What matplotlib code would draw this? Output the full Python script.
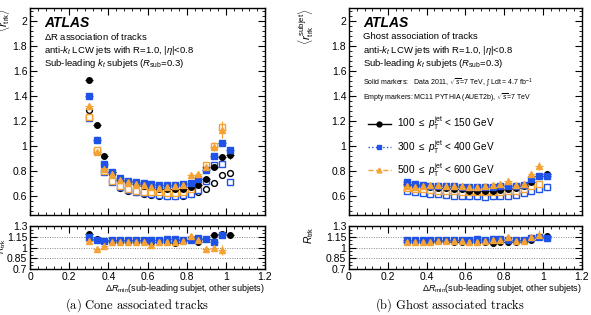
import numpy as np
import matplotlib
matplotlib.use("Agg")
import matplotlib.pyplot as plt
from matplotlib.lines import Line2D
from matplotlib.ticker import MultipleLocator

plt.rcParams['font.family'] = ['Liberation Sans', 'DejaVu Sans']
plt.rcParams['mathtext.fontset'] = 'custom'
plt.rcParams['mathtext.rm'] = 'Liberation Sans'
plt.rcParams['mathtext.it'] = 'Liberation Sans:italic'
plt.rcParams['mathtext.bf'] = 'Liberation Sans:bold'

# bin centres of Delta R_min
xc = [0.30, 0.34, 0.38, 0.42, 0.46, 0.50, 0.54, 0.58, 0.62, 0.66,
      0.70, 0.74, 0.78, 0.82, 0.86, 0.90, 0.94, 0.98, 1.02]

# ---- (a) cone association ----
d100_cone = [1.53, 1.17, 0.92, 0.79, 0.73, 0.72, 0.70, 0.685, 0.67, 0.66, 0.66, 0.655, 0.66, 0.67, 0.69, 0.74, 0.835, 0.915, 0.93]
d300_cone = [1.40, 1.05, 0.86, 0.79, 0.745, 0.72, 0.71, 0.705, 0.70, 0.69, 0.69, 0.69, 0.70, 0.705, 0.74, 0.81, 0.92, 1.02, 0.97]
d500_cone = [1.32, 0.95, 0.82, 0.78, 0.73, 0.71, 0.70, 0.69, 0.67, 0.665, 0.675, 0.68, 0.69, 0.77, 0.78, 0.835, 0.995, 1.13]
e100_cone = [0.012, 0.008, 0.006, 0.005, 0.005, 0.005, 0.005, 0.005, 0.005, 0.005, 0.005, 0.006, 0.006, 0.007, 0.008, 0.01, 0.015, 0.02, 0.035]
e300_cone = [0.01, 0.008, 0.006, 0.005, 0.005, 0.005, 0.005, 0.005, 0.005, 0.005, 0.005, 0.006, 0.006, 0.007, 0.008, 0.01, 0.012, 0.015, 0.02]
e500_cone = [0.025, 0.015, 0.012, 0.01, 0.01, 0.01, 0.01, 0.01, 0.01, 0.01, 0.01, 0.01, 0.012, 0.015, 0.02, 0.025, 0.035, 0.07]
m100_cone = [1.29, 1.045, 0.845, 0.72, 0.665, 0.645, 0.63, 0.62, 0.61, 0.605, 0.60, 0.60, 0.605, 0.615, 0.635, 0.66, 0.705, 0.77, 0.785]
m300_cone = [1.22, 0.96, 0.79, 0.715, 0.67, 0.65, 0.635, 0.625, 0.615, 0.61, 0.605, 0.605, 0.61, 0.62, 0.65, 0.72, 0.85, 0.86, 0.715]
m500_cone = [1.23, 0.965, 0.80, 0.72, 0.68, 0.66, 0.645, 0.635, 0.63, 0.63, 0.625, 0.625, 0.63, 0.66, 0.70, 0.85, 1.0, 1.15]
r100_cone = [1.19, 1.12, 1.09, 1.10, 1.10, 1.10, 1.10, 1.10, 1.07, 1.08, 1.08, 1.06, 1.10, 1.10, 1.07, 1.12, 1.18, 1.19, 1.17]
r300_cone = [1.15, 1.10, 1.09, 1.11, 1.11, 1.11, 1.11, 1.11, 1.11, 1.10, 1.12, 1.12, 1.11, 1.10, 1.13, 1.12, 1.08, 1.18]
r500_cone = [1.09, 0.98, 1.02, 1.08, 1.08, 1.08, 1.08, 1.08, 1.04, 1.08, 1.07, 1.08, 1.09, 1.16, 1.10, 0.98, 0.99, 0.97]
re100_cone = [0.015, 0.01, 0.008, 0.008, 0.008, 0.008, 0.008, 0.008, 0.008, 0.008, 0.008, 0.01, 0.01, 0.01, 0.012, 0.015, 0.02, 0.025, 0.04]
re300_cone = [0.012, 0.01, 0.008, 0.008, 0.008, 0.008, 0.008, 0.008, 0.008, 0.008, 0.008, 0.01, 0.01, 0.01, 0.012, 0.015, 0.015, 0.02]
re500_cone = [0.02, 0.015, 0.015, 0.012, 0.012, 0.012, 0.012, 0.012, 0.012, 0.012, 0.012, 0.015, 0.015, 0.02, 0.025, 0.03, 0.035, 0.07]

# ---- (b) ghost association ----
d100_ghost = [0.70, 0.69, 0.68, 0.67, 0.665, 0.665, 0.66, 0.655, 0.645, 0.645, 0.645, 0.645, 0.65, 0.66, 0.665, 0.68, 0.71, 0.76, 0.78]
d300_ghost = [0.71, 0.70, 0.69, 0.685, 0.68, 0.68, 0.68, 0.675, 0.675, 0.675, 0.675, 0.675, 0.68, 0.68, 0.685, 0.69, 0.74, 0.76, 0.76]
d500_ghost = [0.68, 0.675, 0.685, 0.69, 0.69, 0.685, 0.68, 0.68, 0.675, 0.675, 0.68, 0.69, 0.70, 0.72, 0.69, 0.70, 0.775, 0.84]
e100_ghost = [0.006, 0.005, 0.005, 0.005, 0.005, 0.005, 0.005, 0.005, 0.005, 0.005, 0.005, 0.005, 0.006, 0.006, 0.007, 0.008, 0.01, 0.012, 0.018]
e300_ghost = [0.006, 0.005, 0.005, 0.005, 0.005, 0.005, 0.005, 0.005, 0.005, 0.005, 0.005, 0.005, 0.006, 0.006, 0.007, 0.008, 0.01, 0.012, 0.015]
e500_ghost = [0.01, 0.01, 0.01, 0.01, 0.01, 0.01, 0.01, 0.01, 0.01, 0.01, 0.01, 0.01, 0.012, 0.015, 0.015, 0.018, 0.02, 0.035]
m100_ghost = [0.65, 0.645, 0.64, 0.63, 0.625, 0.62, 0.615, 0.61, 0.605, 0.605, 0.605, 0.605, 0.61, 0.615, 0.62, 0.63, 0.645, 0.66, 0.67]
m300_ghost = [0.64, 0.635, 0.625, 0.62, 0.615, 0.61, 0.605, 0.60, 0.60, 0.60, 0.595, 0.60, 0.60, 0.605, 0.61, 0.625, 0.64, 0.66, 0.675]
m500_ghost = [0.665, 0.66, 0.655, 0.65, 0.645, 0.64, 0.64, 0.635, 0.635, 0.635, 0.63, 0.635, 0.635, 0.64, 0.645, 0.66, 0.68, 0.70]
r100_ghost = [1.08, 1.08, 1.08, 1.08, 1.09, 1.09, 1.08, 1.08, 1.07, 1.08, 1.08, 1.06, 1.08, 1.08, 1.08, 1.10, 1.11, 1.14, 1.16]
r300_ghost = [1.10, 1.10, 1.10, 1.10, 1.10, 1.10, 1.11, 1.11, 1.11, 1.12, 1.11, 1.12, 1.12, 1.11, 1.11, 1.11, 1.13, 1.14, 1.13]
r500_ghost = [1.07, 1.07, 1.08, 1.08, 1.09, 1.09, 1.09, 1.09, 1.08, 1.08, 1.09, 1.10, 1.10, 1.14, 1.09, 1.09, 1.14, 1.18]
re100_ghost = [0.01, 0.008, 0.008, 0.008, 0.008, 0.008, 0.008, 0.008, 0.008, 0.008, 0.008, 0.008, 0.008, 0.01, 0.01, 0.012, 0.015, 0.02, 0.025]
re300_ghost = [0.01, 0.008, 0.008, 0.008, 0.008, 0.008, 0.008, 0.008, 0.008, 0.008, 0.008, 0.008, 0.008, 0.01, 0.01, 0.012, 0.015, 0.018, 0.02]
re500_ghost = [0.015, 0.012, 0.012, 0.012, 0.012, 0.012, 0.012, 0.012, 0.012, 0.012, 0.012, 0.012, 0.015, 0.02, 0.02, 0.025, 0.03, 0.06]

pt_labels = [r'100 $\leq$ $p_{\mathrm{T}}^{\mathrm{jet}}$ < 150 GeV',
             r'300 $\leq$ $p_{\mathrm{T}}^{\mathrm{jet}}$ < 400 GeV',
             r'500 $\leq$ $p_{\mathrm{T}}^{\mathrm{jet}}$ < 600 GeV']

black = 'black'
blue = '#1f52e6'
orange = '#f4a234'
colors = [black, blue, orange]
data_mk = ['o', 's', '^']
mc_mk = ['o', 's', 's']


def style(ax, ymaj, ymin, ylim, labels_x):
    ax.set_xlim(0, 1.2)
    ax.set_ylim(*ylim)
    ax.xaxis.set_major_locator(MultipleLocator(0.2))
    ax.xaxis.set_minor_locator(MultipleLocator(0.04))
    ax.yaxis.set_major_locator(MultipleLocator(ymaj))
    ax.yaxis.set_minor_locator(MultipleLocator(ymin))
    ax.tick_params(which='both', direction='in', top=True, right=True, labelsize=7.5, pad=2)
    ax.tick_params(which='major', length=5)
    ax.tick_params(which='minor', length=2.5)
    if not labels_x:
        ax.tick_params(labelbottom=False)
    for s in ax.spines.values():
        s.set_linewidth(1.0)


def panel(left, width, data, errs, mcs, ratios, rerrs, ylabel, labx, rlabx, rlab_y, rfs):
    ax = fig.add_axes([left, 0.3175, width, 0.657])
    axr = fig.add_axes([left, 0.146, width, 0.1365])
    for i in range(3):
        n = len(data[i])
        ax.errorbar(xc[:n], mcs[i], fmt=mc_mk[i], ms=4.2, mfc='white', mec=colors[i],
                    mew=1.0, ls='none', zorder=2)
    for i in range(3):
        n = len(data[i])
        ax.errorbar(xc[:n], data[i], yerr=errs[i], xerr=0.02, fmt=data_mk[i], ms=4,
                    color=colors[i], elinewidth=0.8, capsize=0, ls='none', zorder=3)
        n = len(ratios[i])
        axr.errorbar(xc[:n], ratios[i], yerr=rerrs[i], xerr=0.02, fmt=data_mk[i], ms=4,
                     color=colors[i], elinewidth=0.8, capsize=0, ls='none', zorder=3)
    for yl in [0.85, 1.0, 1.15]:
        axr.axhline(yl, color='#888888', lw=0.7, ls=(0, (1, 1.5)), zorder=1)
    style(ax, 0.2, 0.04, (0.45, 2.1), False)
    style(axr, 0.15, 0.05, (0.7, 1.3), True)
    axr.set_yticks([0.7, 0.85, 1.0, 1.15, 1.3])
    axr.set_yticklabels(['0.7', '0.85', '1', '1.15', '1.3'])
    ax.set_yticklabels([f'{t:g}' for t in ax.get_yticks()])
    axr.set_xticklabels([f'{t:g}' for t in axr.get_xticks()])
    ax.set_ylabel(ylabel, loc='top', fontsize=8)
    ax.yaxis.set_label_coords(labx, 1.0)
    axr.set_ylabel(r'$R_{\mathrm{trk}}$', loc='top', fontsize=rfs)
    axr.yaxis.set_label_coords(rlabx, rlab_y)
    axr.set_xlabel(r'$\Delta R_{\mathrm{min}}$(sub-leading subjet, other subjets)',
                   loc='right', fontsize=6.5, labelpad=0.5)
    return ax, axr


fig = plt.figure(figsize=(5.91, 3.15), dpi=100)

axa, axar = panel(0.0508, 0.3976,
                  [d100_cone, d300_cone, d500_cone], [e100_cone, e300_cone, e500_cone],
                  [m100_cone, m300_cone, m500_cone],
                  [r100_cone, r300_cone, r500_cone], [re100_cone, re300_cone, re500_cone],
                  r'$\langle r_{\mathrm{trk}}\rangle$', -0.075, -0.095, 0.72, 6.5)
axb, axbr = panel(0.5905, 0.394,
                  [d100_ghost, d300_ghost, d500_ghost], [e100_ghost, e300_ghost, e500_ghost],
                  [m100_ghost, m300_ghost, m500_ghost],
                  [r100_ghost, r300_ghost, r500_ghost], [re100_ghost, re300_ghost, re500_ghost],
                  r'$\langle r_{\mathrm{trk}}^{\mathrm{subjet}}\rangle$', -0.14, -0.14, 1.0, 7.5)

common = [r'anti-$k_t$ LCW jets with R=1.0, |$\eta$|<0.8',
          r'Sub-leading $k_t$ subjets ($R_{\mathrm{sub}}$=0.3)']
for ax, first in [(axa, r'$\Delta$R association of tracks'), (axb, 'Ghost association of tracks')]:
    ax.text(0.06, 0.93, 'ATLAS', transform=ax.transAxes, fontsize=10,
            fontweight='bold', fontstyle='italic', va='center')
    for k, t in enumerate([first] + common):
        ax.text(0.06, 0.862 - k * 0.066, t, transform=ax.transAxes, fontsize=6.8, va='center')

axb.text(0.06, 0.638, r'Solid markers:   Data 2011, $\sqrt{s}$=7 TeV, $\int$ Ldt = 4.7 fb$^{-1}$',
         transform=axb.transAxes, fontsize=5, va='center')
axb.text(0.06, 0.565, r'Empty markers: MC11 PYTHIA (AUET2b), $\sqrt{s}$=7 TeV',
         transform=axb.transAxes, fontsize=5, va='center')

handles = [Line2D([], [], color=black, ls='-', lw=1, marker='o', ms=3.5),
           Line2D([], [], color=blue, ls=':', lw=1, marker='s', ms=3.5),
           Line2D([], [], color=orange, ls='--', lw=1, marker='^', ms=3.5)]
axb.legend(handles, pt_labels, loc='upper left', bbox_to_anchor=(0.05, 0.52),
           frameon=False, fontsize=7.2, handlelength=2.3, labelspacing=0.55,
           handletextpad=0.6, borderpad=0.2)

fig.text(0.232, 0.032, r'$\mathrm{(a)\ Cone\ associated\ tracks}$', math_fontfamily='cm',
         fontsize=9, ha='center', va='center')
fig.text(0.762, 0.032, r'$\mathrm{(b)\ Ghost\ associated\ tracks}$', math_fontfamily='cm',
         fontsize=9, ha='center', va='center')

fig.savefig('out.png', dpi=100)
